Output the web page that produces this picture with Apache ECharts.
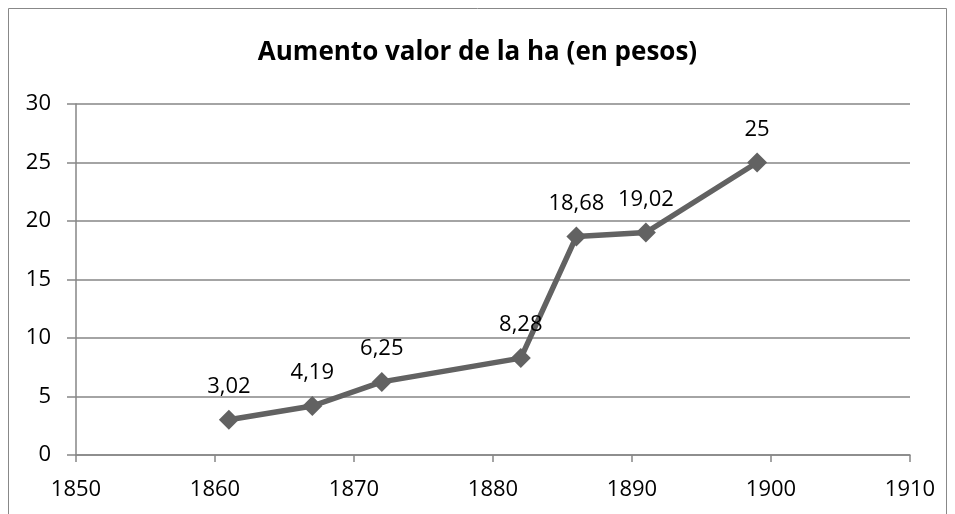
<!DOCTYPE html>
<html><head><meta charset="utf-8">
<script src="https://cdn.jsdelivr.net/npm/echarts@6/dist/echarts.min.js"></script>
<style>html,body{margin:0;padding:0;background:#fff}#c{width:955px;height:514px}</style>
</head><body><div id="c"></div>
<script>
const years = [1861, 1867, 1872, 1882, 1886, 1891, 1899];
const values = [3.02, 4.19, 6.25, 8.28, 18.68, 19.02, 25];
const labels = ["3,02", "4,19", "6,25", "8,28", "18,68", "19,02", "25"];
const titleText = "Aumento valor de la ha (en pesos)";

const chart = echarts.init(document.getElementById('c'), null, {renderer: 'canvas'});
const font = '"Open Sans", sans-serif';
chart.setOption({
  animation: false,
  backgroundColor: '#fff',
  graphic: [{type: 'rect', shape: {x: 8.5, y: 8.5, width: 938, height: 520}, style: {fill: 'none', stroke: '#888', lineWidth: 1}}],
  title: {text: titleText, left: 'center', top: 35, textStyle: {fontFamily: font, fontWeight: 'bold', fontSize: 26, color: '#000'}},
  grid: {left: 76, right: 45, top: 104, bottom: 59},
  xAxis: {
    type: 'value', min: 1850, max: 1910, interval: 10,
    axisLine: {show: true, lineStyle: {color: '#868686', width: 1.5}},
    axisTick: {show: true, length: 7, inside: false, lineStyle: {color: '#868686', width: 1.5}},
    splitLine: {show: false},
    axisLabel: {fontFamily: font, fontSize: 22, color: '#000', margin: 24, formatter: v => String(v)}
  },
  yAxis: {
    type: 'value', min: 0, max: 30, interval: 5,
    axisLine: {show: true, lineStyle: {color: '#868686', width: 1.5}},
    axisTick: {show: true, length: 9, inside: false, lineStyle: {color: '#868686', width: 1.5}},
    splitLine: {show: true, lineStyle: {color: '#868686', width: 1.5}},
    axisLabel: {fontFamily: font, fontSize: 22, color: '#000', margin: 25}
  },
  series: [{
    type: 'line',
    data: years.map((y, i) => [y, values[i]]),
    symbol: 'diamond', symbolSize: 20,
    lineStyle: {color: '#626262', width: 5.5},
    itemStyle: {color: '#626262'},
    label: {show: true, position: 'top', distance: 12, fontFamily: font, fontSize: 22, color: '#000',
      formatter: p => labels[p.dataIndex]}
  }]
});
</script></body></html>
